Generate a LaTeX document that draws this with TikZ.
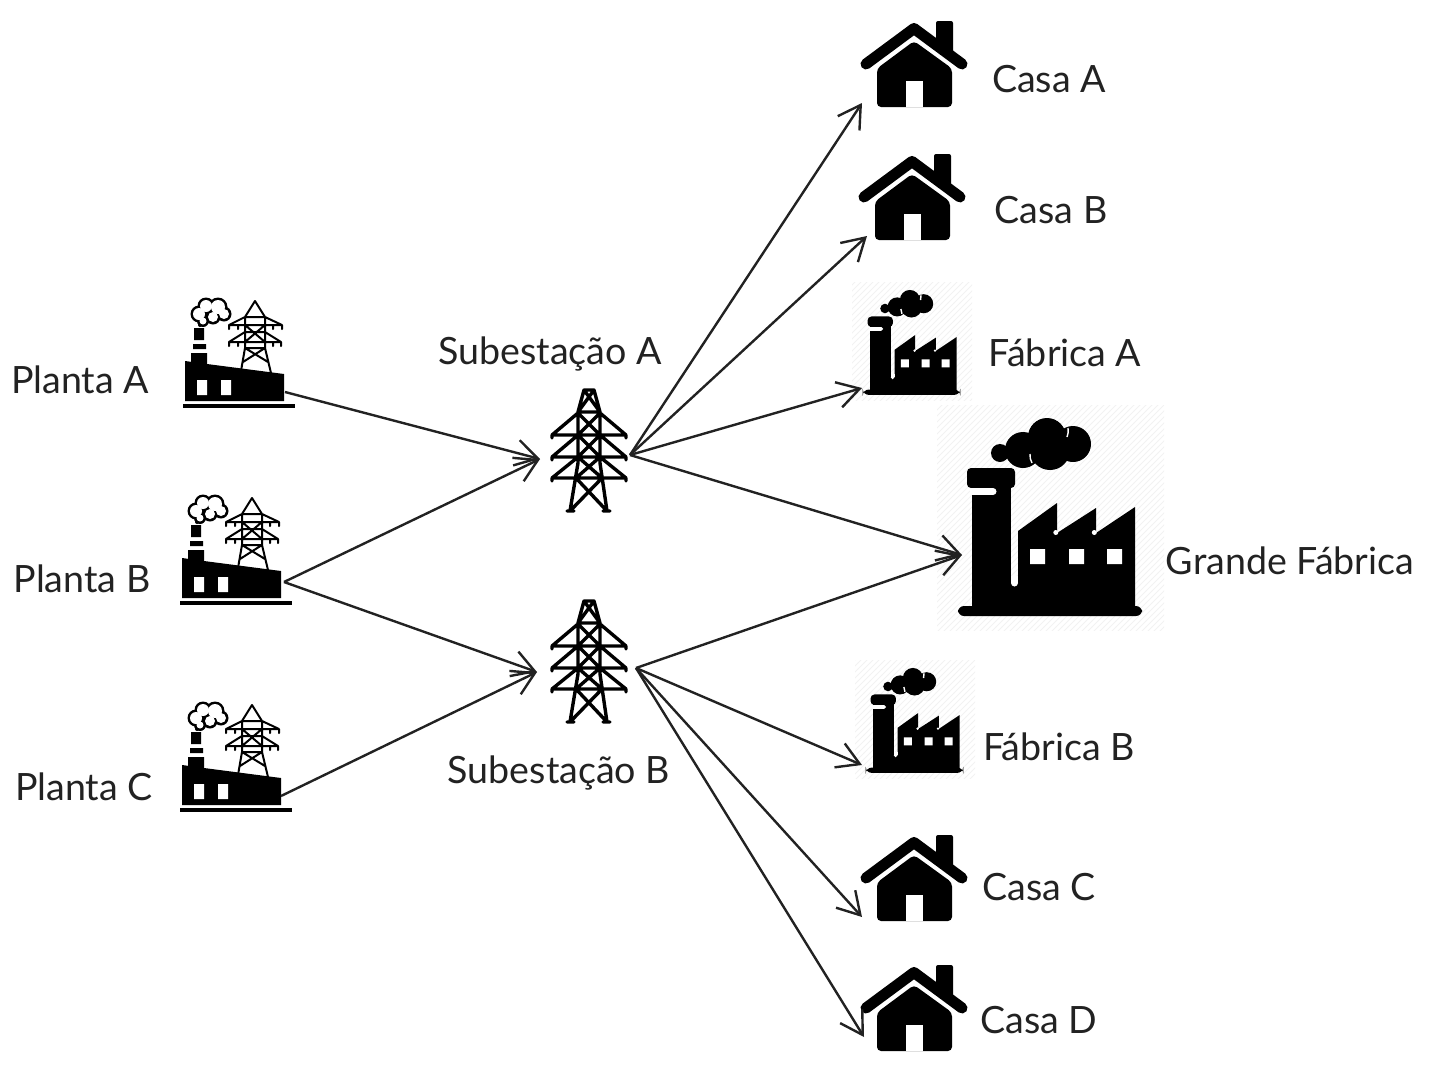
\documentclass[tikz,border=0pt]{standalone}
\usepackage{fontspec}
\setmainfont{Lato}
\usetikzlibrary{arrows.meta,patterns}
\definecolor{tinta}{HTML}{222222}
\tikzset{
	rotulo/.style={font=\fontsize{18.8}{22}\selectfont,text=tinta,inner sep=0pt},
	fluxo/.style={draw=tinta,line width=1.2pt,-{Straight Barb[length=11pt,width=13pt,line width=1.2pt]}},
	listra/.style={pattern=north east lines,pattern color=black!5,draw=none},
	casa/.pic={
		% roof, body, chimney
		\fill[black,rounded corners=1pt] (22,-43) -- (39,-43) -- (39,-6) -- (22,-20) -- cycle;
		\draw[black,line width=5.5pt,line cap=round,line join=round] (-48,0) -- (0,-35.5) -- (48,0);
		\fill[black,rounded corners=2pt] (-37,4.5) -- (0,-23) -- (38,4.5) -- (38,43) -- (-37,43) -- cycle;
		\fill[white] (-8,17) rectangle (9,43);
	},
	fabrica/.pic={
		% chimney
		\fill[black,rounded corners=2pt] (-83,-52) rectangle (-35,-32);
		\fill[black] (-78,-34) rectangle (-39,88);
		\fill[white] (-80,-32) rectangle (-57,-25);
		\fill[white] (-57,-28.5) circle (3.5);
		% building
		\fill[black] (-32,11) -- (7,-17) -- (7,13) -- (46,-12) -- (46,13) -- (85,-13) -- (85,88) -- (-32,88) -- cycle;
		\fill[white] (5.8,12.5) circle (2.5);
		\fill[white] (44.3,12.5) circle (2.5);
		\fill[black] (-40,60) rectangle (-31,88);
		\fill[white] (-39,56) rectangle (-32,63);
		\fill[white] (-35.5,63) circle (3.5);
		\fill[rounded corners=3pt,black] (-92,86) rectangle (92,96);
		\fill[white] (-20,29) rectangle (-5,44) (19,29) rectangle (34,44) (57,29) rectangle (72,44);
		% smoke
		\fill[black] (-50,-67) circle (9);
		\fill[black] (-27,-70) circle (18);
		\fill[black] (-3,-83) circle (19);
		\fill[black] (0,-70) circle (20);
		\fill[black] (23,-76) circle (18);
		\draw[white,line width=.7pt] (-20,-66) to[bend right=15] (-18,-57) (18,-92) to[bend left=15] (17,-83);
	},
	planta/.pic={
		% base and building
		\fill[black] (-52,54) rectangle (60,58);
		\fill[black] (-50,11) -- (-28,14) -- (49,24) -- (49,51) -- (-50,51) -- cycle;
		\fill[white] (-38,30) rectangle (-28,45) (-14,30) rectangle (-4,45);
		% chimney
		\fill[black] (-41,-22) rectangle (-31,-10) (-42,-6) rectangle (-29,-1) (-44,3) rectangle (-28,14);
		% smoke
		\foreach \cx/\cy/\cr in {-36/-36/8.5,-29/-44/8.5,-17/-43/9.5,-11/-36/7.5,-22/-33/7.5,-32/-29/6,-35/-25/2}
			\fill[black] (\cx,\cy) circle (\cr);
		\foreach \cx/\cy/\cr in {-36/-36/6,-29/-44/6,-17/-43/7,-11/-36/5,-22/-33/5,-32/-29/3.5}
			\fill[white] (\cx,\cy) circle (\cr);
		% tower
		\draw[black,line width=1pt,line join=round,line cap=round] (6,21) -- (10,-2) -- (10,-33) -- (20,-49) -- (30,-33) -- (30,-2) -- (36,23)
			(10,-33) -- (-6,-25) -- (47,-25) -- (30,-33) -- cycle
			(10,-18) -- (-6,-8) -- (46,-8) -- (30,-18) -- (10,-18)
			(10,-25) -- (30,-8) (30,-25) -- (10,-8)
			(10,-8) -- (10,-2) -- (30,-2)
			(10,-2) -- (33,12) (30,-2) -- (8,12)
			(-6,-25) -- (-6,-21) (3,-25) -- (3,-21) (38,-25) -- (38,-21) (47,-25) -- (47,-21)
			(-6,-8) -- (-6,-4) (3,-8) -- (3,-4) (38,-8) -- (38,-4) (46,-8) -- (46,-4);
	},
	torre/.pic={
		\draw[black,line width=1.7pt,line join=round,line cap=round] (-19,60) -- (-11,12) -- (-11,-39) -- (-5,-61) -- (5,-61) -- (11,-39) -- (11,12) -- (18,60)
			(-5,-61) -- (11,-39) (5,-61) -- (-11,-39) (-11,-39) -- (11,-39)
			(-11,-38) -- (-37,-16) -- (37,-16) -- (11,-38)
			(-11,-16) -- (-37,6) -- (37,6) -- (11,-16)
			(-11,6) -- (-37,27) -- (37,27) -- (11,6)
			(-11,-38) -- (11,-16) (11,-38) -- (-11,-16)
			(-11,-16) -- (11,6) (11,-16) -- (-11,6)
			(-11,6) -- (13,27) (11,6) -- (-13,27)
			(-13,27) -- (18,60) (13,27) -- (-19,60)
			(-22,60) -- (-15,60) (14,60) -- (21,60)
			(-37,-16) -- (-37,-13) (37,-16) -- (37,-13)
			(-37,6) -- (-37,9) (37,6) -- (37,9)
			(-37,27) -- (-37,30) (37,27) -- (37,30);
	},
}
\begin{document}
\begin{tikzpicture}[x=0.5pt,y=-0.5pt]
	\useasboundingbox (0,0) rectangle (1436,1071);
	% faint backgrounds of the factory icons
	\fill[listra] (852,282) rectangle (972,400);
	\fill[listra] (937,405) rectangle (1164,630);
	\fill[listra] (855,660) rectangle (975,778);
	% icons
	\pic (plantaA) at (235,350) {planta};
	\pic (plantaB) at (232,547) {planta};
	\pic (plantaC) at (232,754) {planta};
	\pic (torreA) at (589,451) {torre};
	\pic (torreB) at (589,662) {torre};
	\pic (casaA) at (914,64) {casa};
	\pic (casaB) at (912,197) {casa};
	\pic (casaC) at (914,878) {casa};
	\pic (casaD) at (914,1008) {casa};
	\pic[scale=.53] (fabricaA) at (911.5,344) {fabrica};
	\pic[scale=.53] (fabricaB) at (914.5,722) {fabrica};
	\pic (fabricaG) at (1050,520) {fabrica};
	% labels
	\node[rotulo] (lPlantaA) at (80,380) {Planta A};
	\node[rotulo] (lPlantaB) at (82,579) {Planta B};
	\node[rotulo] (lPlantaC) at (84,787) {Planta C};
	\node[rotulo] (lTorreA) at (550,354) {Subestação A};
	\node[rotulo] (lTorreB) at (559,773) {Subestação B};
	\node[rotulo] (lCasaA) at (1049,79) {Casa A};
	\node[rotulo] (lCasaB) at (1051,210) {Casa B};
	\node[rotulo] (lCasaC) at (1039,887) {Casa C};
	\node[rotulo] (lCasaD) at (1039,1020) {Casa D};
	\node[rotulo] (lFabricaA) at (1065,353) {Fábrica A};
	\node[rotulo] (lFabricaB) at (1059,747) {Fábrica B};
	\node[rotulo] (lFabricaG) at (1290,561) {Grande Fábrica};
	% connector ends
	\coordinate (plantaAout) at (285,392);
	\coordinate (plantaBout) at (284,582);
	\coordinate (plantaCout) at (281,796);
	\coordinate (torreAin) at (540,459);
	\coordinate (torreBin) at (537,672);
	\coordinate (torreAout) at (630,455);
	\coordinate (torreBout) at (636,668);
	\coordinate (casaAin) at (862,103);
	\coordinate (casaBin) at (867,236);
	\coordinate (casaCin) at (862,917);
	\coordinate (casaDin) at (864,1037);
	\coordinate (fabricaAin) at (862,388);
	\coordinate (fabricaBin) at (862,765);
	\coordinate (fabricaGin) at (962,555);
	% connectors
	\draw[fluxo] (plantaAout) -- (torreAin);
	\draw[fluxo] (plantaBout) -- (torreAin);
	\draw[fluxo] (plantaBout) -- (torreBin);
	\draw[fluxo] (plantaCout) -- (torreBin);
	\draw[fluxo] (torreAout) -- (casaAin);
	\draw[fluxo] (torreAout) -- (casaBin);
	\draw[fluxo] (torreAout) -- (fabricaAin);
	\draw[fluxo] (torreAout) -- (fabricaGin);
	\draw[fluxo] (torreBout) -- (fabricaGin);
	\draw[fluxo] (torreBout) -- (fabricaBin);
	\draw[fluxo] (torreBout) -- (casaCin);
	\draw[fluxo] (torreBout) -- (casaDin);
\end{tikzpicture}
\end{document}
